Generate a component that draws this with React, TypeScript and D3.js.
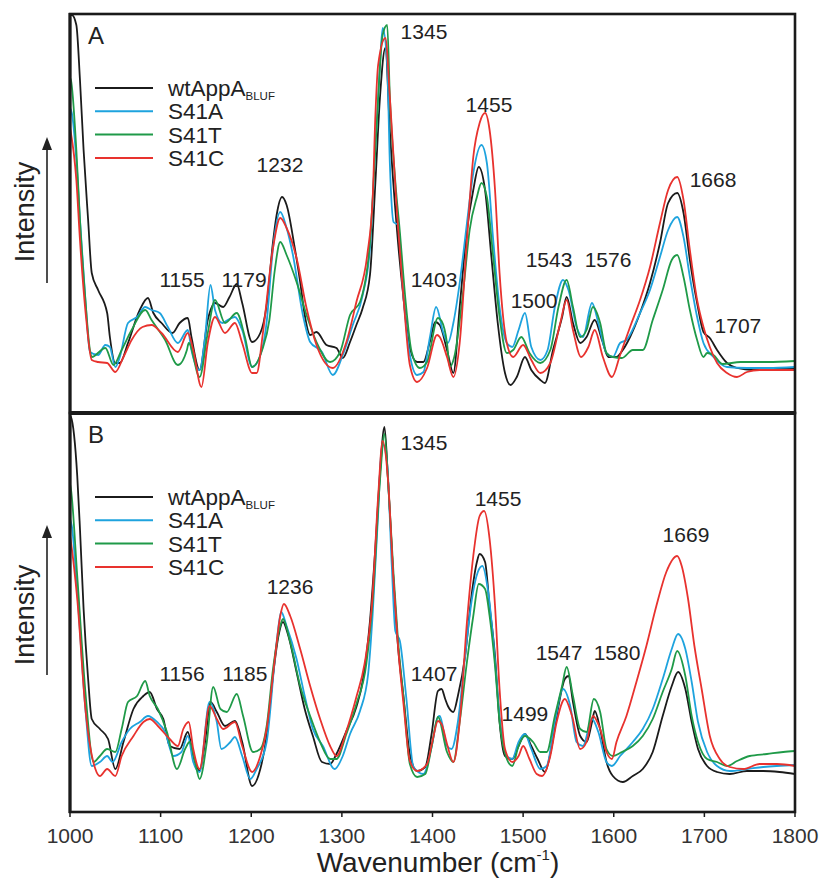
import React from "react";
import * as d3 from "d3";

type Pt = [number, number];

// ---------- Panel A data (wavenumber, intensity a.u.) ----------
const aWt: Pt[] = [[1000,398],[1002,398],[1007,388],[1011,333],[1015,263],[1020,193],[1024,140],[1031,123],[1041,100],[1044,76],[1050,50],[1055,50],[1064,70],[1077,103],[1086,115],[1092,100],[1101,90],[1113,80],[1121,90],[1130,95],[1134,76],[1143,43],[1152,93],[1160,110],[1169,106],[1176,116],[1184,129],[1190,110],[1201,71],[1210,80],[1217,108],[1224,171],[1228,198],[1234,216],[1239,208],[1248,165],[1254,131],[1259,98],[1265,78],[1272,81],[1283,68],[1294,65],[1301,55],[1309,71],[1316,88],[1323,105],[1331,138],[1337,231],[1342,315],[1348,365],[1353,281],[1361,181],[1368,115],[1375,65],[1383,51],[1390,51],[1397,71],[1403,91],[1408,88],[1416,63],[1423,40],[1430,106],[1438,183],[1445,223],[1451,246],[1458,223],[1465,156],[1472,90],[1480,40],[1486,28],[1493,36],[1502,56],[1509,43],[1519,33],[1524,30],[1533,63],[1543,96],[1548,116],[1555,90],[1563,70],[1570,76],[1579,93],[1587,73],[1594,56],[1603,56],[1610,63],[1618,76],[1629,100],[1640,130],[1651,170],[1660,210],[1670,220],[1677,200],[1684,153],[1692,110],[1699,81],[1706,75],[1714,63],[1725,50],[1736,45],[1754,43],[1770,45],[1800,45]];
const aS41A: Pt[] = [[1000,305],[1002,300],[1007,253],[1011,193],[1017,113],[1022,61],[1031,58],[1039,68],[1044,66],[1050,46],[1055,56],[1064,90],[1074,96],[1083,106],[1090,103],[1099,100],[1108,86],[1119,70],[1130,83],[1134,63],[1143,43],[1149,76],[1155,128],[1160,103],[1168,90],[1174,93],[1182,96],[1190,83],[1201,46],[1208,53],[1217,91],[1224,165],[1232,201],[1239,185],[1246,158],[1257,98],[1265,71],[1278,61],[1290,38],[1301,58],[1312,88],[1323,118],[1331,165],[1337,265],[1342,348],[1345,385],[1350,348],[1353,248],[1357,191],[1362,188],[1368,115],[1375,58],[1383,38],[1390,41],[1397,75],[1404,106],[1412,80],[1417,70],[1423,90],[1430,130],[1438,190],[1445,240],[1454,268],[1460,250],[1467,173],[1474,106],[1482,70],[1488,66],[1495,83],[1502,100],[1509,66],[1519,53],[1527,63],[1535,106],[1544,133],[1550,123],[1559,86],[1566,76],[1576,110],[1583,90],[1592,60],[1599,56],[1607,70],[1614,73],[1629,100],[1640,123],[1651,156],[1660,183],[1670,196],[1677,176],[1684,136],[1692,96],[1699,70],[1710,56],[1725,46],[1747,45],[1770,45],[1800,46]];
const aS41T: Pt[] = [[1000,335],[1001,333],[1007,263],[1011,193],[1017,113],[1022,63],[1024,56],[1039,65],[1048,48],[1057,63],[1068,83],[1083,103],[1090,93],[1105,73],[1119,48],[1129,63],[1131,70],[1143,36],[1152,80],[1160,113],[1171,90],[1184,100],[1193,76],[1201,46],[1212,63],[1220,93],[1226,143],[1232,171],[1239,158],[1250,131],[1261,98],[1272,71],[1287,51],[1298,61],[1309,98],[1320,111],[1331,171],[1338,281],[1345,378],[1350,388],[1353,315],[1359,231],[1364,181],[1370,115],[1377,61],[1386,45],[1394,51],[1406,95],[1410,92],[1416,70],[1419,46],[1424,56],[1434,123],[1441,183],[1449,216],[1454,230],[1460,216],[1467,156],[1474,96],[1482,60],[1489,63],[1498,76],[1507,60],[1519,50],[1530,63],[1539,106],[1548,133],[1555,106],[1563,76],[1570,83],[1577,106],[1585,90],[1592,60],[1599,56],[1609,55],[1621,63],[1632,63],[1643,93],[1654,123],[1664,153],[1670,158],[1677,136],[1684,103],[1692,73],[1699,56],[1703,60],[1710,58],[1720,49],[1740,51],[1770,51],[1800,52]];
const aS41C: Pt[] = [[1000,285],[1001,280],[1007,233],[1011,173],[1018,93],[1024,53],[1031,51],[1041,50],[1050,41],[1059,56],[1068,73],[1080,86],[1090,88],[1101,80],[1119,61],[1130,80],[1136,63],[1145,26],[1152,70],[1160,96],[1171,80],[1182,90],[1190,70],[1201,40],[1206,40],[1213,81],[1224,165],[1232,195],[1239,185],[1250,155],[1261,105],[1272,68],[1290,45],[1305,71],[1316,111],[1328,158],[1334,215],[1337,298],[1340,348],[1348,375],[1353,315],[1361,198],[1368,115],[1375,48],[1383,31],[1394,45],[1405,78],[1408,76],[1416,56],[1423,36],[1430,70],[1438,173],[1445,256],[1452,290],[1458,300],[1463,283],[1469,223],[1474,140],[1482,70],[1489,56],[1500,68],[1509,53],[1519,40],[1530,50],[1541,90],[1548,113],[1555,83],[1564,56],[1572,66],[1579,83],[1588,56],[1598,36],[1607,58],[1618,86],[1629,113],[1640,146],[1651,190],[1660,223],[1670,236],[1677,213],[1684,163],[1692,113],[1699,86],[1706,66],[1714,50],[1725,40],[1736,36],[1747,41],[1761,43],[1780,43],[1800,43]];

// ---------- Panel B data ----------
const bWt: Pt[] = [[1000,396],[1001,395],[1008,336],[1011,283],[1015,203],[1020,133],[1024,93],[1033,83],[1042,73],[1050,43],[1059,70],[1070,103],[1081,116],[1088,120],[1096,103],[1103,93],[1110,66],[1121,63],[1130,80],[1136,56],[1143,41],[1149,70],[1155,110],[1162,100],[1171,86],[1182,91],[1190,70],[1201,26],[1210,43],[1217,76],[1224,136],[1230,176],[1235,190],[1241,176],[1250,140],[1259,103],[1268,76],[1278,50],[1287,48],[1294,58],[1305,81],[1316,105],[1323,131],[1331,191],[1337,265],[1342,338],[1347,385],[1351,331],[1357,231],[1362,165],[1368,115],[1375,58],[1383,41],[1392,45],[1399,78],[1406,121],[1410,123],[1414,113],[1417,106],[1423,100],[1428,116],[1436,156],[1443,216],[1449,250],[1452,258],[1458,250],[1463,206],[1469,156],[1474,90],[1480,56],[1488,53],[1495,66],[1502,78],[1509,66],[1516,53],[1524,40],[1531,63],[1539,106],[1546,133],[1550,136],[1555,110],[1563,76],[1570,70],[1576,90],[1579,101],[1585,83],[1592,50],[1599,36],[1610,30],[1621,36],[1632,43],[1643,60],[1654,96],[1664,126],[1671,140],[1679,123],[1686,90],[1693,63],[1703,46],[1714,40],[1728,38],[1747,41],[1765,41],[1783,40],[1800,38]];
const bS41A: Pt[] = [[1000,293],[1002,286],[1008,220],[1017,103],[1024,46],[1033,50],[1041,56],[1047,50],[1057,70],[1066,83],[1077,90],[1086,96],[1096,90],[1105,80],[1114,56],[1123,60],[1130,76],[1136,50],[1143,40],[1154,110],[1162,90],[1167,63],[1177,70],[1182,75],[1190,56],[1199,33],[1206,43],[1217,70],[1228,170],[1233,200],[1239,186],[1250,153],[1259,116],[1268,83],[1279,66],[1292,43],[1301,56],[1309,78],[1320,101],[1329,138],[1334,198],[1340,298],[1343,355],[1345,368],[1350,348],[1355,248],[1359,181],[1364,171],[1371,115],[1379,45],[1390,38],[1399,65],[1406,95],[1408,96],[1416,66],[1421,63],[1428,90],[1436,156],[1443,210],[1450,240],[1455,246],[1461,223],[1467,173],[1474,96],[1482,56],[1488,53],[1495,70],[1502,78],[1509,63],[1519,43],[1526,46],[1535,90],[1544,123],[1552,106],[1559,70],[1566,66],[1576,93],[1583,80],[1592,50],[1598,46],[1607,56],[1621,70],[1632,83],[1643,103],[1654,133],[1664,163],[1671,178],[1679,163],[1686,130],[1693,90],[1703,60],[1714,46],[1728,41],[1747,43],[1765,45],[1800,47]];
const bS41T: Pt[] = [[1000,328],[1001,323],[1008,236],[1017,120],[1026,50],[1033,56],[1041,63],[1050,60],[1057,83],[1064,110],[1074,116],[1083,131],[1088,116],[1097,103],[1107,80],[1118,43],[1127,63],[1132,70],[1138,50],[1143,33],[1151,70],[1158,125],[1166,103],[1173,100],[1184,118],[1191,96],[1202,60],[1210,63],[1217,86],[1224,143],[1232,186],[1235,193],[1243,170],[1254,126],[1265,96],[1276,70],[1287,53],[1294,53],[1305,78],[1316,108],[1327,148],[1334,211],[1342,331],[1347,378],[1351,331],[1357,238],[1362,171],[1368,115],[1375,48],[1383,35],[1392,38],[1399,65],[1406,95],[1416,60],[1423,50],[1430,90],[1438,150],[1445,196],[1451,228],[1458,223],[1463,196],[1469,146],[1474,90],[1482,53],[1488,46],[1495,66],[1502,76],[1511,70],[1519,60],[1526,60],[1535,96],[1543,126],[1548,145],[1555,116],[1563,83],[1570,80],[1578,113],[1585,100],[1592,63],[1599,56],[1609,60],[1621,66],[1632,76],[1643,93],[1654,120],[1664,143],[1670,161],[1679,136],[1686,96],[1693,70],[1703,53],[1714,50],[1725,46],[1736,51],[1750,56],[1769,58],[1787,60],[1800,61]];
const bS41C: Pt[] = [[1000,276],[1001,270],[1008,213],[1017,103],[1028,43],[1033,36],[1041,43],[1050,36],[1057,56],[1070,76],[1081,90],[1088,93],[1097,86],[1110,73],[1119,66],[1125,83],[1131,90],[1136,63],[1143,43],[1154,106],[1162,93],[1169,83],[1182,90],[1190,66],[1201,40],[1210,56],[1217,83],[1226,153],[1232,196],[1236,208],[1243,196],[1254,163],[1265,126],[1276,93],[1287,66],[1294,56],[1305,81],[1316,115],[1325,148],[1333,205],[1340,315],[1345,371],[1351,331],[1357,231],[1362,165],[1368,108],[1375,51],[1383,41],[1394,48],[1400,71],[1406,91],[1410,88],[1416,68],[1423,50],[1430,90],[1438,190],[1445,256],[1452,296],[1457,301],[1463,273],[1469,206],[1474,123],[1480,63],[1488,50],[1495,56],[1500,66],[1507,53],[1515,38],[1521,36],[1530,56],[1537,90],[1546,113],[1554,96],[1563,63],[1570,70],[1577,96],[1585,83],[1592,60],[1598,53],[1603,70],[1614,96],[1625,130],[1636,166],[1647,206],[1658,240],[1670,256],[1675,246],[1682,213],[1689,166],[1697,123],[1706,76],[1717,53],[1728,45],[1743,43],[1761,48],[1780,48],[1800,46]];

// ---------- Series / labels ----------
const seriesNames = ["wtAppA", "S41A", "S41T", "S41C"];
const seriesColors = ["#1b1b1b", "#1ea3de", "#1f9a48", "#e8322e"];
const panelAData = [aWt, aS41A, aS41T, aS41C];
const panelBData = [bWt, bS41A, bS41T, bS41C];

const xTicks = [1000, 1100, 1200, 1300, 1400, 1500, 1600, 1700, 1800];

const peakTextA = ["1155", "1179", "1232", "1345", "1403", "1455", "1500", "1543", "1576", "1668", "1707"];
const peakWnA = [1123.6, 1192, 1231.7, 1390.6, 1401.7, 1462.3, 1512, 1528.6, 1593.7, 1709.5, 1737];
const peakIntA = [126, 126, 241, 374, 126, 301, 105, 146, 146, 226, 80];

const peakTextB = ["1156", "1185", "1236", "1345", "1407", "1455", "1499", "1547", "1580", "1669"];
const peakWnB = [1123.6, 1193, 1242.8, 1390.6, 1401.7, 1472.3, 1502, 1539.6, 1603.6, 1679.7];
const peakIntB = [131, 131, 218, 362, 131, 306, 91, 152, 152, 270];

const FONT = "'Liberation Sans', Arial, Helvetica, sans-serif";
const TXT = "#222";

const W = 820, H = 880;
const left = 70, right = 795;
const panelTops = [14, 413];
const panelH = 399;

const x = d3.scaleLinear().domain([1000, 1800]).range([left, right]);

function Panel({ idx, data, letter, texts, wns, ints }: any) {
  const top = panelTops[idx];
  const bottom = top + panelH;
  const y = d3.scaleLinear().domain([0, 400]).range([bottom, bottom - 400]);
  const line = d3
    .line<Pt>()
    .x((d) => x(d[0]))
    .y((d) => y(d[1]))
    .curve(d3.curveMonotoneX);
  const clipId = `clip${idx}`;
  const legY0 = idx === 0 ? 88 : 497;
  const legStep = 23.3;
  const arrowBottom = idx === 0 ? 283 : 675;
  const arrowTip = idx === 0 ? 137 : 525;
  const labelCy = idx === 0 ? 212 : 615;
  return (
    <g>
      <defs>
        <clipPath id={clipId}>
          <rect x={left} y={top} width={right - left} height={panelH} />
        </clipPath>
      </defs>
      <g clipPath={`url(#${clipId})`}>
        {data.map((s: Pt[], i: number) => (
          <path key={i} d={line(s) || ""} fill="none" stroke={seriesColors[i]} strokeWidth={1.8} strokeLinejoin="round" />
        ))}
      </g>
      {seriesNames.map((n, i) => (
        <g key={n}>
          <line x1={95} x2={153} y1={legY0 + i * legStep} y2={legY0 + i * legStep} stroke={seriesColors[i]} strokeWidth={2} />
          <text x={168} y={legY0 + i * legStep + 8} fontFamily={FONT} fontSize={22.5} fill={TXT}>
            {n}
            {i === 0 ? (
              <tspan fontSize={11.5} dy={4}>BLUF</tspan>
            ) : null}
          </text>
        </g>
      ))}
      {texts.map((t: string, i: number) => (
        <text key={t + i} x={x(wns[i])} y={y(ints[i])} textAnchor="middle" fontFamily={FONT} fontSize={21} fill={TXT}>
          {t}
        </text>
      ))}
      <text x={88} y={top + 30} fontFamily={FONT} fontSize={24} fill={TXT}>{letter}</text>
      <text
        transform={`translate(34,${labelCy}) rotate(-90)`}
        textAnchor="middle"
        fontFamily={FONT}
        fontSize={27}
        fill={TXT}
      >
        Intensity
      </text>
      <line x1={47} x2={47} y1={arrowBottom} y2={arrowTip + 10} stroke={TXT} strokeWidth={1.6} />
      <path d={`M47,${arrowTip} L42,${arrowTip + 13} L52,${arrowTip + 13} Z`} fill={TXT} />
      <rect x={left} y={top} width={right - left} height={panelH} fill="none" stroke="#1a1a1a" strokeWidth={2.6} />
    </g>
  );
}

export default function App() {
  const axisY = panelTops[1] + panelH;
  return (
    <svg width={W} height={H} style={{ position: "absolute", left: 0, top: 0, background: "#fff" }}>
      <rect x={0} y={0} width={W} height={H} fill="#fff" />
      <Panel idx={0} data={panelAData} letter="A" texts={peakTextA} wns={peakWnA} ints={peakIntA} />
      <Panel idx={1} data={panelBData} letter="B" texts={peakTextB} wns={peakWnB} ints={peakIntB} />
      <line x1={left - 1} x2={right + 1} y1={413} y2={413} stroke="#1a1a1a" strokeWidth={4} />
      <line x1={left} x2={left} y1={13} y2={axisY + 1} stroke="#1a1a1a" strokeWidth={3} />
      {xTicks.map((t) => (
        <g key={t}>
          <line x1={x(t)} x2={x(t)} y1={axisY} y2={axisY + 5} stroke="#1a1a1a" strokeWidth={1.5} />
          <text x={x(t)} y={843} textAnchor="middle" fontFamily={FONT} fontSize={21} fill="#333">
            {t}
          </text>
        </g>
      ))}
      <text x={438} y={872} textAnchor="middle" fontFamily={FONT} fontSize={28} fill={TXT}>
        Wavenumber (cm
        <tspan fontSize={15} dy={-12}>-1</tspan>
        <tspan dy={12}>)</tspan>
      </text>
    </svg>
  );
}
